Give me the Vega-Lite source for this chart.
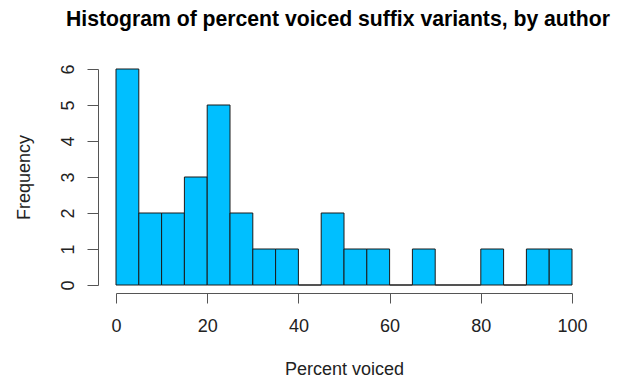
{
  "$schema": "https://vega.github.io/schema/vega-lite/v6.json",
  "width": 456,
  "height": 216,
  "autosize": {"type": "none"},
  "padding": {"left": 116, "top": 69, "right": 54, "bottom": 96},
  "background": "white",
  "title": {
    "text": "Histogram of percent voiced suffix variants, by author",
    "fontSize": 21.2,
    "fontWeight": "bold",
    "font": "Liberation Sans",
    "color": "black",
    "anchor": "middle",
    "dx": -6,
    "offset": 34
  },
  "data": {
    "values": [
      {"start": 0, "end": 5, "count": 6},
      {"start": 5, "end": 10, "count": 2},
      {"start": 10, "end": 15, "count": 2},
      {"start": 15, "end": 20, "count": 3},
      {"start": 20, "end": 25, "count": 5},
      {"start": 25, "end": 30, "count": 2},
      {"start": 30, "end": 35, "count": 1},
      {"start": 35, "end": 40, "count": 1},
      {"start": 40, "end": 45, "count": 0},
      {"start": 45, "end": 50, "count": 2},
      {"start": 50, "end": 55, "count": 1},
      {"start": 55, "end": 60, "count": 1},
      {"start": 60, "end": 65, "count": 0},
      {"start": 65, "end": 70, "count": 1},
      {"start": 70, "end": 75, "count": 0},
      {"start": 75, "end": 80, "count": 0},
      {"start": 80, "end": 85, "count": 1},
      {"start": 85, "end": 90, "count": 0},
      {"start": 90, "end": 95, "count": 1},
      {"start": 95, "end": 100, "count": 1}
    ]
  },
  "mark": {"type": "rect", "fill": "#00BFFF", "stroke": "#1a1a1a", "strokeWidth": 1},
  "encoding": {
    "x": {
      "field": "start",
      "type": "quantitative",
      "scale": {"domain": [0, 100], "nice": false, "zero": false},
      "axis": {
        "title": "Percent voiced",
        "values": [0, 20, 40, 60, 80, 100],
        "offset": 8,
        "tickSize": 10,
        "grid": false,
        "domainColor": "#555555",
        "tickColor": "#555555",
        "labelFont": "Liberation Sans",
        "labelFontSize": 18,
        "labelColor": "#222222",
        "labelPadding": 14,
        "labelFlush": false,
        "titleFont": "Liberation Sans",
        "titleFontSize": 18,
        "titleFontWeight": "normal",
        "titleColor": "#222222",
        "titlePadding": 25
      }
    },
    "x2": {"field": "end"},
    "y": {
      "field": "count",
      "type": "quantitative",
      "scale": {"domain": [0, 6], "nice": false},
      "axis": {
        "title": "Frequency",
        "values": [0, 1, 2, 3, 4, 5, 6],
        "offset": 18,
        "tickSize": 11,
        "grid": false,
        "domainColor": "#555555",
        "tickColor": "#555555",
        "labelAngle": -90,
        "labelAlign": "center",
        "labelBaseline": "alphabetic",
        "labelFont": "Liberation Sans",
        "labelFontSize": 18,
        "labelColor": "#222222",
        "labelPadding": 14,
        "labelFlush": false,
        "titleFont": "Liberation Sans",
        "titleFontSize": 18,
        "titleFontWeight": "normal",
        "titleColor": "#222222",
        "titlePadding": 26
      }
    },
    "y2": {"datum": 0}
  },
  "config": {"view": {"stroke": null}}
}
